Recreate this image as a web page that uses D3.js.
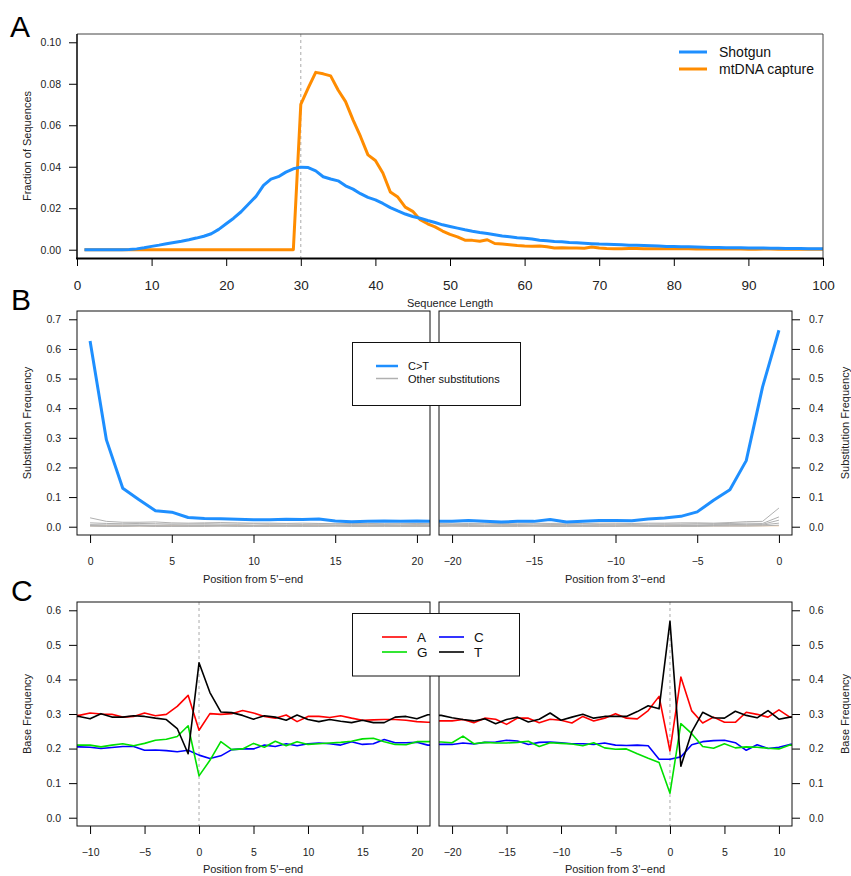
<!DOCTYPE html>
<html>
<head>
<meta charset="utf-8">
<script src="https://cdn.jsdelivr.net/npm/d3@7"></script>
<style>
  body { margin: 0; background: #fff; }
</style>
</head>
<body>
<script>
// ---- Panel A: read length distribution ----
const lengths = d3.range(1, 101);
const shotgun = [0, 0, 0, 0, 0, 0, 0.0001, 0.0004, 0.0009, 0.0016,
    0.0022, 0.0029, 0.0035, 0.0041, 0.0048, 0.0056, 0.0065, 0.0077, 0.0098, 0.0125,
    0.0152, 0.0183, 0.0220, 0.0257, 0.0310, 0.0340, 0.0352, 0.0374, 0.0390, 0.0398,
    0.0396, 0.0380, 0.0352, 0.0341, 0.0332, 0.0308, 0.0292, 0.0270, 0.0252, 0.0240,
    0.0223, 0.0203, 0.0187, 0.0172, 0.0160, 0.0152, 0.0141, 0.0131, 0.0120, 0.0112,
    0.0104, 0.0096, 0.0089, 0.0083, 0.0078, 0.0072, 0.0066, 0.0062, 0.0058, 0.0055,
    0.0052, 0.0046, 0.0043, 0.0040, 0.0038, 0.0035, 0.0033, 0.0031, 0.0029, 0.0027,
    0.0026, 0.0025, 0.0024, 0.0022, 0.0021, 0.0020, 0.0019, 0.0018, 0.0016, 0.0015,
    0.0014, 0.0014, 0.0013, 0.0012, 0.0011, 0.0011, 0.0010, 0.0010, 0.0009, 0.0008,
    0.0008, 0.0008, 0.0007, 0.0007, 0.0006, 0.0006, 0.0006, 0.0005, 0.0005, 0.0005];
const capture = [0, 0, 0, 0, 0, 0, 0, 0, 0, 0,
    0, 0, 0, 0, 0, 0, 0, 0, 0, 0,
    0, 0, 0, 0, 0, 0, 0, 0, 0, 0.0701,
    0.0780, 0.0855, 0.0848, 0.0838, 0.0770, 0.0714, 0.0626, 0.0546, 0.0457, 0.0430,
    0.0370, 0.0278, 0.0254, 0.0205, 0.0185, 0.0145, 0.0125, 0.0110, 0.0090, 0.0074,
    0.0062, 0.0046, 0.0045, 0.0041, 0.0048, 0.0030, 0.0027, 0.0024, 0.0020, 0.0018,
    0.0017, 0.0018, 0.0014, 0.0008, 0.0009, 0.0008, 0.0008, 0.0007, 0.0013, 0.0008,
    0.0006, 0.0005, 0.0005, 0.0006, 0.0006, 0.0005, 0.0004, 0.0005, 0.0004, 0.0004,
    0.0004, 0.0005, 0.0003, 0.0003, 0.0003, 0.0003, 0.0003, 0.0003, 0.0003, 0.0002,
    0.0002, 0.0003, 0.0003, 0.0002, 0.0002, 0.0002, 0.0002, 0.0002, 0.0002, 0.0002];
const lengthTicks = [0, 10, 20, 30, 40, 50, 60, 70, 80, 90, 100];
const fractionTicks = [0, 0.02, 0.04, 0.06, 0.08, 0.10];

// ---- Panel B: substitution frequencies ----
const pos5 = d3.range(0, 23);
const pos3 = d3.range(-22, 1);
const ct5 = [0.627, 0.293, 0.130, 0.091, 0.054, 0.049, 0.031, 0.028, 0.027, 0.025,
    0.0235, 0.0235, 0.025, 0.024, 0.026, 0.019, 0.017, 0.018, 0.019, 0.018,
    0.019, 0.018, 0.018];
const ct3 = [0.017, 0.018, 0.018, 0.021, 0.018, 0.016, 0.018, 0.018, 0.024, 0.016,
    0.018, 0.021, 0.021, 0.020, 0.026, 0.029, 0.035, 0.050, 0.089, 0.125,
    0.223, 0.472, 0.663];
const other5 = [
    [0.030, 0.018, 0.015, 0.015, 0.016, 0.013, 0.012, 0.013, 0.014, 0.013, 0.012, 0.012, 0.011, 0.012, 0.011, 0.010, 0.011, 0.011, 0.010, 0.010, 0.011, 0.010, 0.010],
    [0.013, 0.011, 0.010, 0.011, 0.010, 0.009, 0.009, 0.010, 0.009, 0.009, 0.010, 0.009, 0.009, 0.008, 0.009, 0.009, 0.008, 0.009, 0.008, 0.009, 0.008, 0.009, 0.008],
    [0.007, 0.006, 0.006, 0.006, 0.005, 0.006, 0.005, 0.006, 0.005, 0.006, 0.005, 0.006, 0.005, 0.005, 0.006, 0.005, 0.005, 0.006, 0.005, 0.005, 0.006, 0.005, 0.005],
    [0.004, 0.003, 0.003, 0.004, 0.003, 0.003, 0.003, 0.004, 0.003, 0.003, 0.003, 0.003, 0.004, 0.003, 0.003, 0.003, 0.003, 0.003, 0.004, 0.003, 0.003, 0.003, 0.003],
    [0.002, 0.001, 0.001, 0.002, 0.001, 0.001, 0.001, 0.001, 0.002, 0.001, 0.001, 0.001, 0.001, 0.001, 0.001, 0.002, 0.001, 0.001, 0.001, 0.001, 0.001, 0.001, 0.001]
];
const other3 = [
    [0.012, 0.011, 0.012, 0.011, 0.012, 0.011, 0.012, 0.012, 0.011, 0.012, 0.011, 0.012, 0.012, 0.011, 0.012, 0.012, 0.013, 0.013, 0.012, 0.014, 0.017, 0.018, 0.063],
    [0.008, 0.009, 0.008, 0.008, 0.009, 0.008, 0.008, 0.009, 0.008, 0.008, 0.009, 0.008, 0.009, 0.008, 0.009, 0.009, 0.009, 0.010, 0.010, 0.011, 0.012, 0.011, 0.033],
    [0.006, 0.005, 0.006, 0.006, 0.005, 0.006, 0.006, 0.005, 0.006, 0.006, 0.005, 0.006, 0.006, 0.006, 0.005, 0.006, 0.006, 0.006, 0.007, 0.007, 0.008, 0.008, 0.022],
    [0.004, 0.003, 0.003, 0.004, 0.003, 0.003, 0.004, 0.003, 0.003, 0.003, 0.004, 0.003, 0.003, 0.003, 0.004, 0.003, 0.004, 0.004, 0.004, 0.005, 0.005, 0.006, 0.012],
    [0.001, 0.001, 0.002, 0.001, 0.001, 0.001, 0.001, 0.002, 0.001, 0.001, 0.001, 0.001, 0.001, 0.002, 0.001, 0.001, 0.001, 0.001, 0.002, 0.002, 0.002, 0.003, 0.005]
];
const ga5 = [0.003, 0.003, 0.003, 0.003, 0.003, 0.003, 0.003, 0.003, 0.004, 0.004, 0.004, 0.004, 0.004, 0.004, 0.004, 0.004, 0.004, 0.004, 0.004, 0.004, 0.004, 0.004, 0.004];
const ga3 = [0.003, 0.003, 0.003, 0.003, 0.003, 0.003, 0.003, 0.003, 0.003, 0.003, 0.003, 0.003, 0.003, 0.003, 0.003, 0.003, 0.003, 0.003, 0.003, 0.003, 0.003, 0.003, 0.003];
const subTicks5 = [0, 5, 10, 15, 20];
const subTicks3 = [-20, -15, -10, -5, 0];
const freqTicks = [0, 0.1, 0.2, 0.3, 0.4, 0.5, 0.6, 0.7];

// ---- Panel C: base composition ----
const basePos5 = d3.range(-12, 23);
const basePos3 = d3.range(-22, 13);
const baseA5 = [0.296, 0.296, 0.303, 0.300, 0.299, 0.291, 0.293, 0.303, 0.295, 0.299, 0.322, 0.354,
    0.253, 0.301, 0.299, 0.301, 0.310, 0.303, 0.293, 0.288, 0.297, 0.278, 0.293, 0.293,
    0.290, 0.295, 0.288, 0.282, 0.283, 0.284, 0.284, 0.282, 0.278, 0.276, 0.276];
const baseC5 = [0.205, 0.205, 0.204, 0.200, 0.203, 0.206, 0.206, 0.195, 0.196, 0.194, 0.191, 0.195,
    0.181, 0.171, 0.179, 0.197, 0.199, 0.199, 0.210, 0.206, 0.214, 0.208, 0.214, 0.216,
    0.214, 0.210, 0.220, 0.212, 0.214, 0.226, 0.217, 0.217, 0.218, 0.210, 0.210];
const baseG5 = [0.210, 0.210, 0.210, 0.205, 0.210, 0.214, 0.208, 0.215, 0.224, 0.227, 0.235, 0.266,
    0.121, 0.166, 0.220, 0.197, 0.199, 0.215, 0.204, 0.221, 0.208, 0.220, 0.212, 0.214,
    0.216, 0.218, 0.221, 0.228, 0.230, 0.220, 0.212, 0.211, 0.220, 0.220, 0.220];
const baseT5 = [0.293, 0.293, 0.286, 0.301, 0.291, 0.291, 0.295, 0.293, 0.288, 0.284, 0.258, 0.185,
    0.448, 0.362, 0.306, 0.304, 0.296, 0.285, 0.295, 0.291, 0.282, 0.297, 0.284, 0.278,
    0.284, 0.279, 0.275, 0.282, 0.275, 0.275, 0.291, 0.293, 0.286, 0.298, 0.298];
const baseA3 = [0.280, 0.280, 0.280, 0.284, 0.275, 0.288, 0.285, 0.270, 0.288, 0.288, 0.275, 0.285,
    0.282, 0.274, 0.293, 0.280, 0.288, 0.301, 0.288, 0.286, 0.310, 0.351, 0.193, 0.407,
    0.309, 0.274, 0.291, 0.276, 0.276, 0.305, 0.299, 0.291, 0.312, 0.291, 0.291];
const baseC3 = [0.212, 0.212, 0.212, 0.216, 0.213, 0.218, 0.219, 0.224, 0.222, 0.212, 0.218, 0.219,
    0.217, 0.214, 0.214, 0.212, 0.216, 0.210, 0.209, 0.210, 0.208, 0.169, 0.169, 0.176,
    0.211, 0.220, 0.223, 0.224, 0.217, 0.195, 0.211, 0.200, 0.204, 0.212, 0.212];
const baseG3 = [0.219, 0.219, 0.217, 0.236, 0.214, 0.218, 0.216, 0.216, 0.218, 0.221, 0.206, 0.217,
    0.215, 0.213, 0.208, 0.217, 0.202, 0.198, 0.199, 0.185, 0.172, 0.160, 0.071, 0.272,
    0.243, 0.206, 0.201, 0.214, 0.202, 0.205, 0.204, 0.201, 0.199, 0.210, 0.210];
const baseT3 = [0.296, 0.296, 0.289, 0.284, 0.280, 0.286, 0.272, 0.284, 0.291, 0.277, 0.285, 0.303,
    0.282, 0.291, 0.299, 0.288, 0.293, 0.293, 0.293, 0.307, 0.324, 0.315, 0.568, 0.149,
    0.248, 0.305, 0.289, 0.288, 0.308, 0.296, 0.289, 0.310, 0.285, 0.291, 0.291];
const baseTicks5 = [-10, -5, 0, 5, 10, 15, 20];
const baseTicks3 = [-20, -15, -10, -5, 0, 5, 10];
const baseFreqTicks = [0, 0.1, 0.2, 0.3, 0.4, 0.5, 0.6];

const FONT = "'Liberation Sans', Arial, Helvetica, sans-serif";

const svg = d3.select("body").append("svg")
    .attr("width", 851)
    .attr("height", 876)
    .style("font-family", FONT);

let clipId = 0;

// plot frame: clip, box, axes, returns group to draw data into
const makePlot = (o) => {
    const x = d3.scaleLinear().domain(o.xDomain).range([o.left, o.right]);
    const y = d3.scaleLinear().domain(o.yDomain).range([o.bottom, o.top]);
    const id = "clip" + (clipId++);
    svg.append("clipPath").attr("id", id)
        .append("rect")
        .attr("x", o.left).attr("y", o.top)
        .attr("width", o.right - o.left).attr("height", o.bottom - o.top);

    // Add X axis
    const xa = svg.append("g")
        .attr("transform", "translate(0," + o.bottom + ")")
        .call(d3.axisBottom(x)
            .tickValues(o.xTicks)
            .tickSize(8)
            .tickSizeOuter(0)
            .tickPadding(o.xPad)
            .tickFormat(d => d3.format("")(d).replace("-", "\u2212")));
    xa.attr("font-family", FONT).attr("font-size", o.xFont);
    xa.select(".domain").remove();
    xa.selectAll("text").attr("fill", "#222");

    // Add Y axis
    const axis = o.yRight ? d3.axisRight(y) : d3.axisLeft(y);
    const ya = svg.append("g")
        .attr("transform", "translate(" + (o.yRight ? o.right : o.left) + ",0)")
        .call(axis
            .tickValues(o.yTicks)
            .tickSize(8)
            .tickSizeOuter(0)
            .tickPadding(o.yRight ? 9 : 8)
            .tickFormat(d3.format(o.yFormat)));
    ya.attr("font-family", FONT).attr("font-size", 10.5);
    ya.select(".domain").remove();
    ya.selectAll("text").attr("fill", "#222");

    const g = svg.append("g").attr("clip-path", "url(#" + id + ")");
    return { x, y, g, o };
};

const finishBox = (p, stroke) => {
    svg.append("rect")
        .attr("x", p.o.left).attr("y", p.o.top)
        .attr("width", p.o.right - p.o.left).attr("height", p.o.bottom - p.o.top)
        .attr("fill", "none")
        .attr("stroke", stroke || "#111")
        .attr("stroke-width", 1);
};

const addLine = (p, xs, ys, color, width) => {
    p.g.append("path")
        .datum(xs.map((v, i) => [v, ys[i]]))
        .attr("fill", "none")
        .attr("stroke", color)
        .attr("stroke-width", width)
        .attr("stroke-linejoin", "round")
        .attr("d", d3.line()
            .x(d => p.x(d[0]))
            .y(d => p.y(d[1])));
};

const addDashed = (p, xv) => {
    p.g.append("line")
        .attr("x1", p.x(xv)).attr("x2", p.x(xv))
        .attr("y1", p.o.top).attr("y2", p.o.bottom)
        .attr("stroke", "#aaa")
        .attr("stroke-width", 1)
        .attr("stroke-dasharray", "3,3");
};

const addText = (x, y, txt, size, opts) => {
    const t = svg.append("text")
        .attr("x", x).attr("y", y)
        .attr("font-size", size)
        .attr("fill", (opts && opts.fill) || "#222")
        .attr("text-anchor", (opts && opts.anchor) || "middle")
        .attr("dominant-baseline", (opts && opts.baseline) || "central")
        .text(txt);
    if (opts && opts.rotate) t.attr("transform", "rotate(-90," + x + "," + y + ")");
    return t;
};

const BLUE = "#1e8fff";
const ORANGE = "#ff8c00";
const GREY = "#b0b0b0";

// ===== Panel A =====
const pa = makePlot({
    left: 77, right: 823, top: 34, bottom: 258,
    xDomain: [0, 100], yDomain: [-0.004, 0.104],
    xTicks: lengthTicks, yTicks: fractionTicks,
    xPad: 14, xFont: 13.5, yFormat: ".2f"
});
addDashed(pa, 30);
addLine(pa, lengths, capture, ORANGE, 3);
addLine(pa, lengths, shotgun, BLUE, 3);
// open frame, thick bottom axis line
svg.append("path")
    .attr("d", "M77,258V34H823V258")
    .attr("fill", "none").attr("stroke", "#444").attr("stroke-width", 1);
svg.append("line")
    .attr("x1", 77).attr("x2", 77).attr("y1", 34).attr("y2", 259)
    .attr("stroke", "#000").attr("stroke-width", 1.2);
svg.append("line")
    .attr("x1", 76).attr("x2", 823.5).attr("y1", 258.5).attr("y2", 258.5)
    .attr("stroke", "#000").attr("stroke-width", 2);
addText(450, 303, "Sequence Length", 11);
addText(27, 146, "Fraction of Sequences", 11, { rotate: true });

// legend A
const legA = [["Shotgun", BLUE, 52], ["mtDNA capture", ORANGE, 69]];
legA.forEach(d => {
    svg.append("line")
        .attr("x1", 679).attr("x2", 707).attr("y1", d[2]).attr("y2", d[2])
        .attr("stroke", d[1]).attr("stroke-width", 3);
    addText(719, d[2], d[0], 14, { anchor: "start", fill: "#111" });
});

// ===== Panel B =====
const pb1 = makePlot({
    left: 77, right: 430, top: 311, bottom: 535,
    xDomain: [-0.8, 20.8], yDomain: [-0.028, 0.728],
    xTicks: subTicks5, yTicks: freqTicks,
    xPad: 15, xFont: 10.5, yFormat: ".1f"
});
const pb2 = makePlot({
    left: 439, right: 792, top: 311, bottom: 535,
    xDomain: [-20.8, 0.8], yDomain: [-0.028, 0.728],
    xTicks: subTicks3, yTicks: freqTicks, yRight: true,
    xPad: 15, xFont: 10.5, yFormat: ".1f"
});
addLine(pb1, pos5, ga5, "#f5c89a", 1);
addLine(pb2, pos3, ga3, "#f5c89a", 1);
other5.forEach(s => addLine(pb1, pos5, s, GREY, 1));
other3.forEach(s => addLine(pb2, pos3, s, GREY, 1));
addLine(pb1, pos5, ct5, BLUE, 3);
addLine(pb2, pos3, ct3, BLUE, 3);
finishBox(pb1);
finishBox(pb2);
addText(253, 579, "Position from 5'\u2212end", 11);
addText(615, 579, "Position from 3'\u2212end", 11);
addText(27, 423, "Substitution Frequency", 11, { rotate: true });
addText(845, 423, "Substitution Frequency", 11, { rotate: true });

// legend B
svg.append("rect")
    .attr("x", 352.5).attr("y", 342.5).attr("width", 168).attr("height", 63)
    .attr("fill", "#fff").attr("stroke", "#111").attr("stroke-width", 1);
const legB = [["C>T", BLUE, 2.5, 366], ["Other substitutions", GREY, 1.5, 378.5]];
legB.forEach(d => {
    svg.append("line")
        .attr("x1", 376).attr("x2", 398).attr("y1", d[3]).attr("y2", d[3])
        .attr("stroke", d[1]).attr("stroke-width", d[2]);
    addText(408, d[3], d[0], 11, { anchor: "start", fill: "#111" });
});

// ===== Panel C =====
const pc1 = makePlot({
    left: 77, right: 430, top: 602, bottom: 826,
    xDomain: [-11.2, 21.2], yDomain: [-0.024, 0.624],
    xTicks: baseTicks5, yTicks: baseFreqTicks,
    xPad: 15, xFont: 10.5, yFormat: ".1f"
});
const pc2 = makePlot({
    left: 439, right: 792, top: 602, bottom: 826,
    xDomain: [-21.2, 11.2], yDomain: [-0.024, 0.624],
    xTicks: baseTicks3, yTicks: baseFreqTicks, yRight: true,
    xPad: 15, xFont: 10.5, yFormat: ".1f"
});
addDashed(pc1, 0);
addDashed(pc2, 0);
const baseColors = { A: "#ff0000", C: "#0000ff", G: "#00e000", T: "#000000" };
addLine(pc1, basePos5, baseA5, baseColors.A, 1.6);
addLine(pc1, basePos5, baseC5, baseColors.C, 1.6);
addLine(pc1, basePos5, baseG5, baseColors.G, 1.6);
addLine(pc1, basePos5, baseT5, baseColors.T, 1.6);
addLine(pc2, basePos3, baseA3, baseColors.A, 1.6);
addLine(pc2, basePos3, baseC3, baseColors.C, 1.6);
addLine(pc2, basePos3, baseG3, baseColors.G, 1.6);
addLine(pc2, basePos3, baseT3, baseColors.T, 1.6);
finishBox(pc1);
finishBox(pc2);
addText(253, 869, "Position from 5'\u2212end", 11);
addText(615, 869, "Position from 3'\u2212end", 11);
addText(27, 714, "Base Frequency", 11, { rotate: true });
addText(845, 714, "Base Frequency", 11, { rotate: true });

// legend C
svg.append("rect")
    .attr("x", 352.5).attr("y", 613.5).attr("width", 167).attr("height", 62.5)
    .attr("fill", "#fff").attr("stroke", "#111").attr("stroke-width", 1);
const legC = [
    ["A", baseColors.A, 382, 637],
    ["G", baseColors.G, 382, 652],
    ["C", baseColors.C, 439, 637],
    ["T", baseColors.T, 439, 652]
];
legC.forEach(d => {
    svg.append("line")
        .attr("x1", d[2]).attr("x2", d[2] + 25).attr("y1", d[3]).attr("y2", d[3])
        .attr("stroke", d[1]).attr("stroke-width", 1.6);
    addText(d[2] + 35, d[3], d[0], 13.5, { anchor: "start", fill: "#111" });
});

// panel letters
addText(10, 37, "A", 30, { anchor: "start", baseline: "alphabetic", fill: "#000" });
addText(11, 310, "B", 30, { anchor: "start", baseline: "alphabetic", fill: "#000" });
addText(11, 601, "C", 30, { anchor: "start", baseline: "alphabetic", fill: "#000" });
</script>
</body>
</html>
